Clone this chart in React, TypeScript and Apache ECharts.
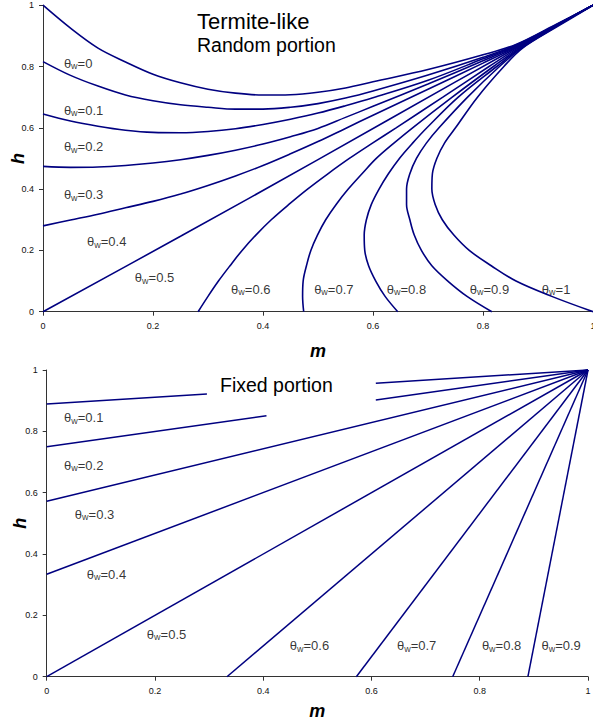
import React, { useEffect, useRef } from "react";
import * as echarts from "echarts";

// ---------- data: top chart (Termite-like, random portion) ----------
const randomThetas = ["0", "0.1", "0.2", "0.3", "0.4", "0.5", "0.6", "0.7", "0.8", "0.9", "1"];

const rnd00 = [[0,1],[0.05,0.925],[0.1,0.86],[0.15,0.815],[0.2,0.775],[0.25,0.747],[0.3,0.726],[0.35,0.713],[0.4,0.707],[0.45,0.708],[0.5,0.716],[0.55,0.73],[0.6,0.75],[0.7,0.79],[0.8,0.838],[0.86,0.872],[0.93,0.935],[1,1]];
const rnd01 = [[0,0.816],[0.05,0.771],[0.1,0.736],[0.15,0.707],[0.2,0.688],[0.25,0.675],[0.3,0.667],[0.35,0.661],[0.4,0.661],[0.45,0.667],[0.5,0.679],[0.55,0.697],[0.6,0.72],[0.7,0.772],[0.8,0.83],[0.86,0.87],[0.93,0.933],[1,1]];
const rnd02 = [[0,0.645],[0.05,0.622],[0.1,0.605],[0.15,0.592],[0.2,0.585],[0.25,0.584],[0.3,0.588],[0.35,0.597],[0.4,0.611],[0.45,0.628],[0.5,0.648],[0.55,0.672],[0.6,0.698],[0.7,0.755],[0.8,0.825],[0.86,0.868],[0.93,0.932],[1,1]];
const rnd03 = [[0,0.474],[0.05,0.471],[0.1,0.472],[0.15,0.477],[0.2,0.485],[0.25,0.496],[0.3,0.51],[0.35,0.527],[0.4,0.547],[0.45,0.571],[0.5,0.598],[0.55,0.634],[0.6,0.67],[0.7,0.743],[0.8,0.819],[0.86,0.866],[0.93,0.931],[1,1]];
const rnd04 = [[0,0.28],[0.05,0.299],[0.1,0.318],[0.15,0.339],[0.2,0.36],[0.25,0.384],[0.3,0.412],[0.35,0.443],[0.4,0.477],[0.45,0.515],[0.5,0.555],[0.55,0.598],[0.6,0.641],[0.7,0.726],[0.8,0.811],[0.86,0.863],[0.93,0.93],[1,1]];
const rnd05 = [[0,0],[0.25,0.246],[0.5,0.496],[0.75,0.75],[1,1]];
const rnd06 = [[0.282,0],[0.3,0.05],[0.319,0.1],[0.34,0.15],[0.362,0.2],[0.387,0.25],[0.415,0.3],[0.447,0.35],[0.481,0.4],[0.518,0.45],[0.557,0.5],[0.599,0.55],[0.642,0.6],[0.727,0.7],[0.811,0.8],[0.863,0.86],[0.93,0.93],[1,1]];
const rnd07 = [[0.474,0],[0.472,0.05],[0.473,0.1],[0.479,0.15],[0.487,0.2],[0.499,0.25],[0.514,0.3],[0.533,0.35],[0.555,0.4],[0.58,0.45],[0.606,0.5],[0.638,0.55],[0.672,0.6],[0.744,0.7],[0.819,0.8],[0.866,0.86],[0.931,0.93],[1,1]];
const rnd08 = [[0.645,0],[0.622,0.05],[0.605,0.1],[0.592,0.15],[0.585,0.2],[0.584,0.25],[0.588,0.3],[0.597,0.35],[0.611,0.4],[0.628,0.45],[0.648,0.5],[0.672,0.55],[0.698,0.6],[0.755,0.7],[0.825,0.8],[0.868,0.86],[0.932,0.93],[1,1]];
const rnd09 = [[0.816,0],[0.771,0.05],[0.736,0.1],[0.707,0.15],[0.688,0.2],[0.675,0.25],[0.667,0.3],[0.661,0.35],[0.661,0.4],[0.667,0.45],[0.679,0.5],[0.697,0.55],[0.72,0.6],[0.772,0.7],[0.83,0.8],[0.87,0.86],[0.933,0.93],[1,1]];
const rnd10 = [[1,0],[0.925,0.05],[0.86,0.1],[0.815,0.15],[0.775,0.2],[0.747,0.25],[0.726,0.3],[0.713,0.35],[0.707,0.4],[0.708,0.45],[0.716,0.5],[0.73,0.55],[0.75,0.6],[0.79,0.7],[0.838,0.8],[0.872,0.86],[0.935,0.93],[1,1]];
const randomCurves = [rnd00, rnd01, rnd02, rnd03, rnd04, rnd05, rnd06, rnd07, rnd08, rnd09, rnd10];

// label anchors (m, h) for the top chart
const randomLabelAnchors = [[0.038,0.811],[0.038,0.658],[0.038,0.538],[0.038,0.381],[0.08,0.228],[0.167,0.11],[0.342,0.074],[0.493,0.074],[0.625,0.074],[0.776,0.074],[0.907,0.074]];

// ---------- data: bottom chart (fixed portion) ----------
const fixedThetas = ["0.1", "0.2", "0.3", "0.4", "0.5", "0.6", "0.7", "0.8", "0.9"];
const fix01 = [[[0,0.889],[0.296,0.922]],[[0.608,0.957],[1,1]]];
const fix02 = [[[0,0.75],[0.406,0.851]],[[0.608,0.902],[1,1]]];
const fix03 = [[[0,0.572],[1,1]]];
const fix04 = [[[0,0.334],[1,1]]];
const fix05 = [[[0,0],[1,1]]];
const fix06 = [[[0.333,0],[1,1]]];
const fix07 = [[[0.572,0],[1,1]]];
const fix08 = [[[0.75,0],[1,1]]];
const fix09 = [[[0.889,0],[1,1]]];
const fixedLines = [fix01, fix02, fix03, fix04, fix05, fix06, fix07, fix08, fix09];

const fixedLabelAnchors = [[0.032,0.844],[0.032,0.69],[0.052,0.53],[0.074,0.334],[0.185,0.138],[0.449,0.101],[0.647,0.101],[0.804,0.101],[0.914,0.101]];

const axisTicks = { min: 0, max: 1, interval: 0.2 };

const FONT = "Arial, 'Liberation Sans', sans-serif";
const LINE_COLOR = "#000080";

function makeAxis(gridIndex: number, isX: boolean, nameGap: number) {
  return {
    type: "value",
    gridIndex,
    min: axisTicks.min,
    max: axisTicks.max,
    interval: axisTicks.interval,
    name: isX ? "m" : "h",
    nameLocation: "middle",
    nameGap,
    nameMoveOverlap: false,
    nameRotate: isX ? 0 : 90,
    nameTextStyle: { fontFamily: FONT, fontSize: 18, fontWeight: "bold", fontStyle: "italic", color: "#000" },
    axisLine: { show: true, onZero: false, lineStyle: { color: "#333", width: 1 } },
    axisTick: { show: true, length: 4, lineStyle: { color: "#333" } },
    axisLabel: { fontFamily: FONT, fontSize: 9, color: "#111", margin: isX ? 10 : 9 },
    splitLine: { show: false },
  };
}

const richStyle = {
  t: { fontFamily: FONT, fontSize: 13, color: "#000", lineHeight: 15 },
  s: { fontFamily: FONT, fontSize: 9, color: "#000", lineHeight: 10, verticalAlign: "bottom" },
};

export default function App() {
  const ref = useRef<HTMLDivElement>(null);
  useEffect(() => {
    if (!ref.current) return;
    const chart = echarts.init(ref.current, null, { renderer: "svg" });
    const series: any[] = [];
    randomCurves.forEach((c, i) => {
      series.push({
        type: "line",
        name: "random θw=" + randomThetas[i],
        xAxisIndex: 0,
        yAxisIndex: 0,
        data: c,
        symbol: "none",
        smooth: 0.35,
        clip: false,
        silent: true,
        lineStyle: { color: LINE_COLOR, width: 1.6 },
      });
    });
    fixedLines.forEach((segs, i) => {
      segs.forEach((seg) => {
        series.push({
          type: "line",
          name: "fixed θw=" + fixedThetas[i],
          xAxisIndex: 1,
          yAxisIndex: 1,
          data: seg,
          symbol: "none",
          clip: false,
          silent: true,
          lineStyle: { color: LINE_COLOR, width: 1.5 },
        });
      });
    });
    const labelSeries = (xi: number, anchors: number[][], names: string[]) => ({
      type: "scatter",
      xAxisIndex: xi,
      yAxisIndex: xi,
      symbolSize: 0,
      silent: true,
      clip: false,
      data: anchors.map((a, i) => ({ value: a, name: names[i] })),
      label: {
        show: true,
        position: "right",
        distance: 0,
        formatter: (p: any) => `{t|θ}{s|w}{t|=${p.name}}`,
        rich: richStyle,
      },
    });
    series.push(labelSeries(0, randomLabelAnchors, randomThetas));
    series.push(labelSeries(1, fixedLabelAnchors, fixedThetas));

    chart.setOption({
      animation: false,
      grid: [
        { left: 43, top: 5.2, width: 550, height: 306.5, containLabel: false, outerBoundsMode: "none" },
        { left: 46.7, top: 370, width: 541.3, height: 306.7, containLabel: false, outerBoundsMode: "none" },
      ],
      xAxis: [makeAxis(0, true, 30), makeAxis(1, true, 25)],
      yAxis: [makeAxis(0, false, 16), makeAxis(1, false, 18)],
      series,
      graphic: [
        { type: "text", left: 197, top: 10, style: { text: "Termite-like", font: `22px ${FONT}`, fill: "#000" } },
        { type: "text", left: 197, top: 35, style: { text: "Random portion", font: `19.5px ${FONT}`, fill: "#000" } },
        { type: "text", left: 220, top: 375, style: { text: "Fixed portion", font: `19.5px ${FONT}`, fill: "#000" } },
      ],
    });
    return () => chart.dispose();
  }, []);
  return (
    <div
      ref={ref}
      style={{ position: "absolute", left: 0, top: 0, width: 593, height: 722, background: "#fff" }}
    />
  );
}
